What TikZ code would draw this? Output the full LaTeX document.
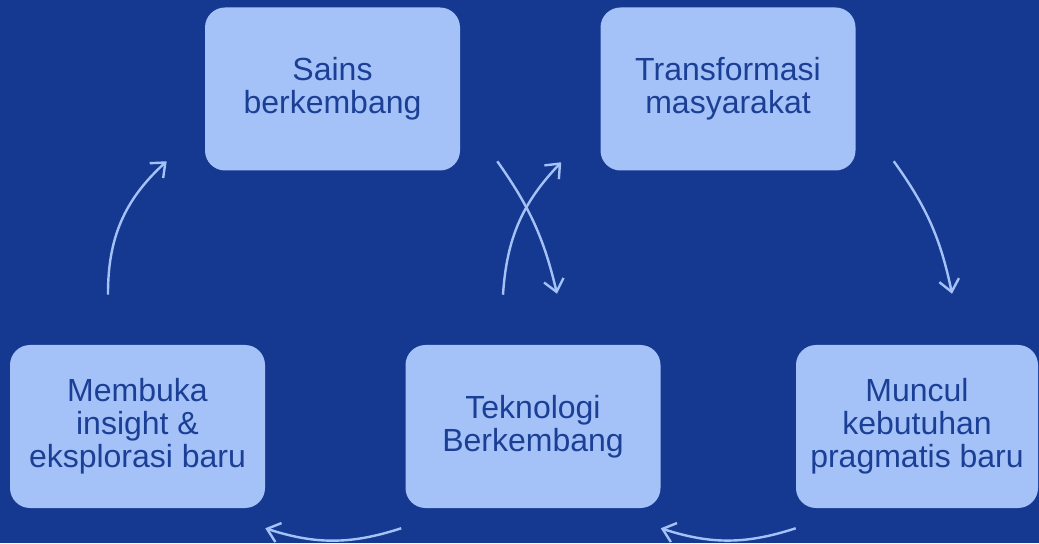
\documentclass[tikz,border=0pt]{standalone}
\usepackage{fontspec}
\setmainfont{Liberation Sans}
\usetikzlibrary{arrows.meta}

\definecolor{latar}{RGB}{21,57,145}
\definecolor{isi}{RGB}{164,194,248}
\definecolor{tulisan}{RGB}{28,63,150}

\begin{document}
\begin{tikzpicture}[x=0.75pt, y=0.75pt,
    kotak/.style={fill=isi, text=tulisan, rounded corners=15pt, inner sep=0pt,
        minimum width=191.25pt, minimum height=122.25pt, align=center,
        font=\fontsize{24}{24.75}\selectfont},
    panah/.style={draw=isi, line width=1.8pt, -{Straight Barb[length=9pt,width=15pt]}}]
    % Latar
    \fill[latar] (0,0) rectangle (1039,543);
    \useasboundingbox (0,0) rectangle (1039,543);

    % Kotak-kotak
    \node[kotak] (sains) at (332.5,454) {Sains\\berkembang};
    \node[kotak] (trans) at (728,454) {Transformasi\\masyarakat};
    \node[kotak] (buka) at (137.5,116.5) {Membuka\\insight \&\\eksplorasi baru};
    \node[kotak] (tekno) at (533,116.5) {Teknologi\\Berkembang};
    \node[kotak, minimum width=181.5pt] (butuh) at (917,116.5) {Muncul\\kebutuhan\\pragmatis baru};

    % Panah atas
    \draw[panah] ([shift={(-29.5,50)}]buka.north) to[bend left=24] ([shift={(-38,9.5)}]sains.south west);
    \draw[panah] ([shift={(37,9.5)}]sains.south east) to[bend left=11] ([shift={(24,51)}]tekno.north);
    \draw[panah] ([shift={(-30,50)}]tekno.north) to[bend left=20] ([shift={(-39,8.5)}]trans.south west);
    \draw[panah] ([shift={(38,9.5)}]trans.south east) to[bend left=12] ([shift={(35,51)}]butuh.north);

    % Panah bawah
    \draw[panah] ([shift={(0,-20)}]butuh.south west) to[bend left=18] ([shift={(0,-20)}]tekno.south east);
    \draw[panah] ([shift={(-4,-20)}]tekno.south west) to[bend left=18] ([shift={(0,-20)}]buka.south east);
\end{tikzpicture}
\end{document}
